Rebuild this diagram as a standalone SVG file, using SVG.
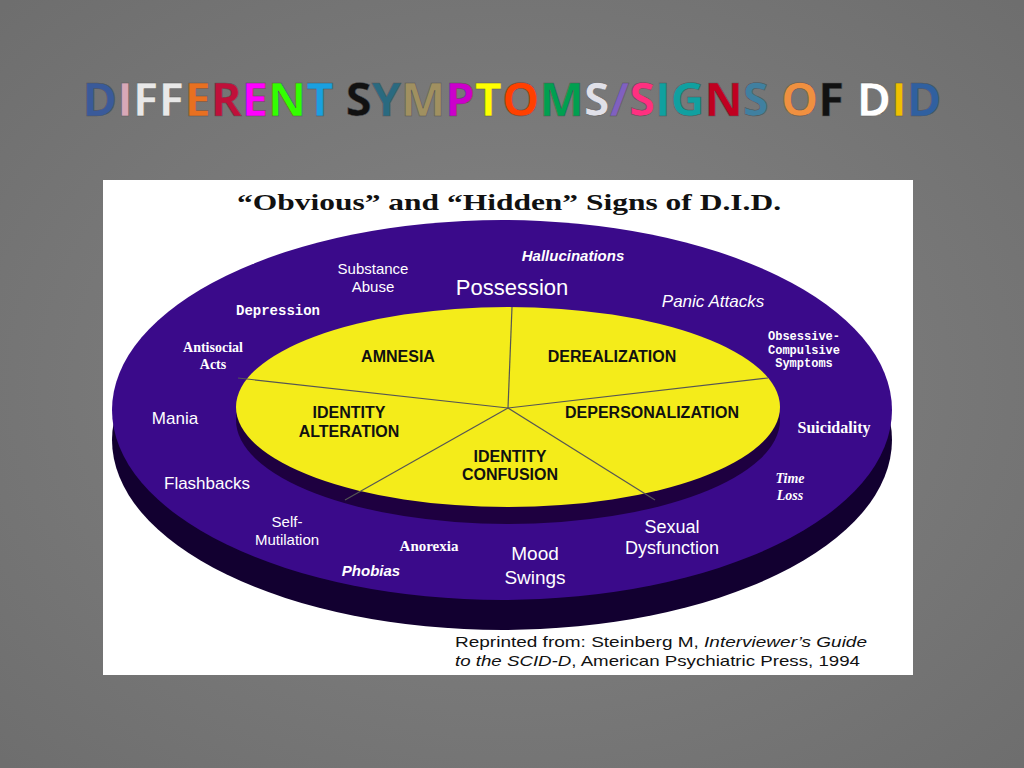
<svg xmlns="http://www.w3.org/2000/svg" width="1024" height="768" viewBox="0 0 1024 768">
<style>
.t{font-family:"Liberation Sans",Arial,sans-serif;font-weight:bold;fill:#fff}
.b{font-family:"Liberation Sans",Arial,sans-serif;font-weight:bold;fill:#111;font-size:16px}
</style>
<defs>
<radialGradient id="bg" cx="0.5" cy="0.5" r="0.7"><stop offset="0" stop-color="#858585"/><stop offset="1" stop-color="#6e6e6e"/></radialGradient>
</defs>
<rect width="1024" height="768" fill="url(#bg)"/>
<g id="title">
<text x="512" y="116" text-anchor="middle" font-family="Open Sans, Liberation Sans, sans-serif" font-weight="bold" font-size="47" stroke="#555" stroke-width="0.5"><tspan fill="#3a5a9a">D</tspan><tspan fill="#d8a8b8">I</tspan><tspan fill="#e8e8e8">FF</tspan><tspan fill="#e87020">E</tspan><tspan fill="#c0103a">R</tspan><tspan fill="#ff00ff">E</tspan><tspan fill="#33ff00">N</tspan><tspan fill="#1aa0e0">T</tspan> <tspan fill="#111">S</tspan><tspan fill="#2a6a80">Y</tspan><tspan fill="#a09060">M</tspan><tspan fill="#cc00cc">P</tspan><tspan fill="#ffff00">T</tspan><tspan fill="#ff4000">O</tspan><tspan fill="#00a050">M</tspan><tspan fill="#e0e0e8">S</tspan><tspan fill="#8060c0">/</tspan><tspan fill="#ff3080">S</tspan><tspan fill="#10a0a0">IG</tspan><tspan fill="#c00020">N</tspan><tspan fill="#4080a0">S</tspan> <tspan fill="#f09040">O</tspan><tspan fill="#111">F</tspan> <tspan fill="#fff">D</tspan><tspan fill="#f0c000">I</tspan><tspan fill="#3060a0">D</tspan></text>
</g>
<g id="panel">
<rect x="103" y="180" width="810" height="495" fill="#fff"/>
<text x="237" y="210" textLength="544" lengthAdjust="spacingAndGlyphs" font-family="Liberation Serif,serif" font-weight="bold" font-size="23" fill="#111">“Obvious” and “Hidden” Signs of D.I.D.</text>
<ellipse cx="502" cy="440" rx="390" ry="190" fill="#120030"/>
<ellipse cx="502" cy="410" rx="390" ry="190" fill="#3a0a8a"/>
<ellipse cx="508" cy="420" rx="272" ry="104" fill="#1e0040"/>
<ellipse cx="508" cy="407" rx="272" ry="100" fill="#f4ec1a"/>
<g stroke="#555" stroke-width="1.2">
<line x1="508" y1="408" x2="512" y2="307"/>
<line x1="508" y1="408" x2="768" y2="378"/>
<line x1="508" y1="408" x2="655" y2="500"/>
<line x1="508" y1="408" x2="345" y2="500"/>
<line x1="508" y1="408" x2="238" y2="378"/>
</g>
<text class="b" x="398" y="362" text-anchor="middle">AMNESIA</text>
<text class="b" x="612" y="362" text-anchor="middle">DEREALIZATION</text>
<text class="b" x="652" y="418" text-anchor="middle">DEPERSONALIZATION</text>
<text class="b" x="349" y="418" text-anchor="middle">IDENTITY</text>
<text class="b" x="349" y="437" text-anchor="middle">ALTERATION</text>
<text class="b" x="510" y="462" text-anchor="middle">IDENTITY</text>
<text class="b" x="510" y="480" text-anchor="middle">CONFUSION</text>
<g class="t" font-size="15">
<text x="373" y="274" text-anchor="middle" font-weight="normal">Substance</text>
<text x="373" y="292" text-anchor="middle" font-weight="normal">Abuse</text>
<text x="573" y="261" text-anchor="middle" font-style="italic">Hallucinations</text>
<text x="512" y="295" text-anchor="middle" font-size="22" font-weight="normal">Possession</text>
<text x="713" y="307" text-anchor="middle" font-size="17" font-style="italic" font-weight="normal">Panic Attacks</text>
<text x="278" y="315" text-anchor="middle" font-family="Liberation Mono,monospace" font-size="14">Depression</text>
<text x="213" y="352" text-anchor="middle" font-family="Liberation Serif,serif" font-size="14">Antisocial</text>
<text x="213" y="369" text-anchor="middle" font-family="Liberation Serif,serif" font-size="14">Acts</text>
<text x="804" y="340" text-anchor="middle" font-family="Liberation Mono,monospace" font-size="12">Obsessive-</text>
<text x="804" y="354" text-anchor="middle" font-family="Liberation Mono,monospace" font-size="12">Compulsive</text>
<text x="804" y="367" text-anchor="middle" font-family="Liberation Mono,monospace" font-size="12">Symptoms</text>
<text x="175" y="424" text-anchor="middle" font-weight="normal" font-size="17">Mania</text>
<text x="834" y="433" text-anchor="middle" font-family="Liberation Serif,serif" font-size="16">Suicidality</text>
<text x="790" y="483" text-anchor="middle" font-family="Liberation Serif,serif" font-style="italic" font-size="14">Time</text>
<text x="790" y="500" text-anchor="middle" font-family="Liberation Serif,serif" font-style="italic" font-size="14">Loss</text>
<text x="207" y="489" text-anchor="middle" font-weight="normal" font-size="17">Flashbacks</text>
<text x="287" y="527" text-anchor="middle" font-weight="normal">Self-</text>
<text x="287" y="545" text-anchor="middle" font-weight="normal">Mutilation</text>
<text x="429" y="551" text-anchor="middle" font-family="Liberation Serif,serif" font-size="15">Anorexia</text>
<text x="371" y="576" text-anchor="middle" font-style="italic">Phobias</text>
<text x="535" y="560" text-anchor="middle" font-weight="normal" font-size="19">Mood</text>
<text x="535" y="584" text-anchor="middle" font-weight="normal" font-size="19">Swings</text>
<text x="672" y="533" text-anchor="middle" font-weight="normal" font-size="18">Sexual</text>
<text x="672" y="554" text-anchor="middle" font-weight="normal" font-size="18">Dysfunction</text>
</g>
<text x="455" y="647" textLength="412" lengthAdjust="spacingAndGlyphs" font-family="Liberation Sans,Arial,sans-serif" font-size="15" fill="#111">Reprinted from:  Steinberg M, <tspan font-style="italic">Interviewer’s Guide</tspan></text>
<text x="455" y="666" textLength="405" lengthAdjust="spacingAndGlyphs" font-family="Liberation Sans,Arial,sans-serif" font-size="15" fill="#111"><tspan font-style="italic">to the SCID-D</tspan>, American Psychiatric Press, 1994</text>
</g>
</svg>
